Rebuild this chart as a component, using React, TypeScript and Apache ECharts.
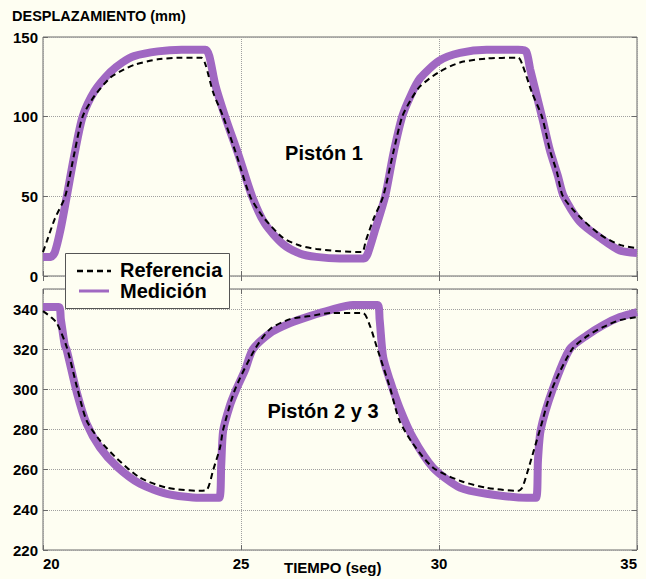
import React, { useEffect, useRef } from "react";
import * as echarts from "echarts";

// Pistón 1 (top panel) — reference and measurement, [tiempo (s), desplazamiento (mm)]
const ref1: [number, number][] = [
  [20.0, 15], [20.1, 22], [20.3, 36], [20.56, 50], [20.8, 78], [21.0, 100], [21.3, 113],
  [21.7, 124.5], [22.0, 129], [22.3, 132.5], [22.9, 136], [23.5, 137], [24.0, 137],
  [24.1, 133], [24.3, 115], [24.55, 100], [24.9, 75], [25.23, 50], [25.56, 37], [26.06, 24],
  [26.5, 19], [26.9, 17], [27.5, 15.5], [28.05, 15], [28.15, 22], [28.35, 36], [28.59, 50],
  [28.85, 78], [29.07, 100], [29.3, 111], [29.52, 119], [30.0, 128], [30.53, 134],
  [31.2, 136.5], [32.0, 137], [32.1, 133], [32.35, 115], [32.6, 100], [32.8, 79],
  [32.98, 65], [33.13, 50], [33.56, 37], [34.07, 26], [34.57, 19.5], [35.0, 17.5],
];
const med1: [number, number][] = [
  [20.0, 12], [20.2, 12], [20.3, 15], [20.45, 30], [20.6, 50], [20.8, 77], [21.0, 100],
  [21.3, 116], [21.7, 128], [22.0, 134], [22.3, 138], [22.9, 141], [23.5, 142], [24.1, 142],
  [24.2, 138], [24.35, 120], [24.6, 100], [24.95, 75], [25.28, 50], [25.6, 33], [26.06, 20],
  [26.5, 14], [26.9, 12], [27.5, 11], [28.1, 11], [28.2, 14], [28.4, 30], [28.64, 50],
  [28.85, 77], [29.07, 100], [29.3, 114], [29.52, 124], [30.0, 135], [30.53, 140],
  [31.2, 142], [32.0, 142], [32.2, 141], [32.3, 130], [32.6, 100], [32.8, 79], [33.0, 63],
  [33.15, 50], [33.56, 34], [34.07, 24], [34.57, 16], [35.0, 14.5],
];

// Pistón 2 y 3 (bottom panel)
const ref2: [number, number][] = [
  [20.0, 339], [20.2, 336], [20.35, 333], [20.6, 321], [20.86, 301], [21.1, 284.5],
  [21.44, 274.5], [21.87, 265.5], [22.45, 256], [23.13, 251], [23.96, 249.5], [24.14, 250],
  [24.3, 260], [24.47, 271], [24.55, 280], [24.85, 300], [25.35, 320], [25.73, 330],
  [26.24, 335], [26.74, 336.5], [27.25, 338], [28.08, 338], [28.25, 332], [28.43, 321],
  [28.76, 301], [29.0, 284.5], [29.34, 273], [29.85, 261], [30.53, 254.5], [31.2, 251],
  [32.0, 249.5], [32.1, 251], [32.22, 258], [32.4, 270], [32.55, 280], [32.85, 300],
  [33.36, 320], [33.74, 326.5], [34.14, 331], [34.57, 334.5], [35.0, 336],
];
const med2: [number, number][] = [
  [20.0, 341], [20.4, 341], [20.45, 335], [20.55, 322], [20.6, 319.5], [20.86, 298],
  [21.1, 283], [21.44, 271], [21.87, 261.5], [22.45, 253], [23.13, 248], [23.96, 246],
  [24.45, 246], [24.5, 262], [24.55, 279.5], [24.72, 292], [24.88, 300], [25.1, 309.5],
  [25.3, 320], [25.73, 328], [26.24, 333], [26.74, 336.5], [27.25, 339.5], [27.83, 342],
  [28.45, 342], [28.5, 335], [28.59, 316], [28.76, 304.5], [29.0, 291], [29.34, 276],
  [29.85, 261], [30.53, 251], [31.2, 248], [32.22, 246], [32.45, 246], [32.5, 265],
  [32.57, 280], [32.87, 300], [33.3, 320], [33.74, 327], [34.14, 332], [34.57, 336],
  [35.0, 338.5],
];

const xTicks = { min: 20, max: 35, interval: 5 };
const yTop = { min: 0, max: 150, interval: 50 };
const yBottom = { min: 220, max: 350, interval: 20 };

const BG = "#fefef2";
const PURPLE = "#a068c2";
const FRAME = "#6a6a6a";
const FONT = "Liberation Sans";

export default function App() {
  const ref = useRef<HTMLDivElement>(null);
  useEffect(() => {
    if (!ref.current) return;
    const chart = echarts.init(ref.current, null, { renderer: "svg" });
    const label = { color: "#000", fontWeight: "bold" as const, fontSize: 15, fontFamily: FONT };
    const split = { show: true, lineStyle: { color: "#a0a0a0", type: "dotted" as const, width: 1 } };
    const tick = { show: true, inside: true, length: 5, lineStyle: { color: FRAME } };
    const xMain = (gridIndex: number, showLabel: boolean) => ({
      type: "value" as const, gridIndex, ...xTicks,
      axisLine: { show: false }, axisTick: tick, splitLine: split,
      axisLabel: { show: showLabel, ...label, margin: 6, alignMinLabel: "left", alignMaxLabel: "right" },
    });
    const xTop = (gridIndex: number) => ({
      type: "value" as const, gridIndex, position: "top" as const, ...xTicks,
      axisLine: { show: false }, axisTick: tick, splitLine: { show: false }, axisLabel: { show: false },
    });
    const yMain = (gridIndex: number, r: any, hideMax: boolean) => ({
      type: "value" as const, gridIndex, ...r,
      axisLine: { show: false }, axisTick: tick, splitLine: split,
      axisLabel: { ...label, margin: 5, showMaxLabel: !hideMax },
    });
    const yRight = (gridIndex: number, r: any) => ({
      type: "value" as const, gridIndex, position: "right" as const, ...r,
      axisLine: { show: false }, axisTick: tick, splitLine: { show: false }, axisLabel: { show: false },
    });
    const lineBase = { type: "line" as const, showSymbol: false, smooth: 0.25, silent: true };
    chart.setOption({
      animation: false,
      backgroundColor: BG,
      grid: [
        { left: 43, top: 37, width: 594, height: 239, show: true, borderColor: FRAME, borderWidth: 1, backgroundColor: BG },
        { left: 43, top: 289, width: 594, height: 261, show: true, borderColor: FRAME, borderWidth: 1, backgroundColor: BG },
      ],
      xAxis: [xMain(0, false), xMain(1, true), xTop(0), xTop(1)],
      yAxis: [yMain(0, yTop, false), yMain(1, yBottom, true), yRight(0, yTop), yRight(1, yBottom)],
      series: [
        { ...lineBase, name: "Medición", xAxisIndex: 0, yAxisIndex: 0, data: med1, lineStyle: { color: PURPLE, width: 8 } },
        { ...lineBase, name: "Referencia", xAxisIndex: 0, yAxisIndex: 0, data: ref1, lineStyle: { color: "#000", width: 2, type: [6, 4] } },
        { ...lineBase, name: "Medición", xAxisIndex: 1, yAxisIndex: 1, data: med2, lineStyle: { color: PURPLE, width: 8 } },
        { ...lineBase, name: "Referencia", xAxisIndex: 1, yAxisIndex: 1, data: ref2, lineStyle: { color: "#000", width: 2, type: [6, 4] } },
      ],
      graphic: [
        { type: "text", x: 12, y: 16, z: 100, style: { text: "DESPLAZAMIENTO (mm)", fill: "#000", font: `bold 14.5px "${FONT}"`, verticalAlign: "middle" } },
        { type: "text", x: 284, y: 567, z: 100, style: { text: "TIEMPO (seg)", fill: "#000", font: `bold 15px "${FONT}"`, verticalAlign: "middle" } },
        { type: "text", x: 324, y: 153, z: 100, style: { text: "Pistón 1", fill: "#000", font: `bold 20px "${FONT}"`, align: "center", verticalAlign: "middle" } },
        { type: "text", x: 323, y: 411, z: 100, style: { text: "Pistón 2 y 3", fill: "#000", font: `bold 20px "${FONT}"`, align: "center", verticalAlign: "middle" } },
        { type: "rect", z: 100, shape: { x: 65.5, y: 253.5, width: 164, height: 55 }, style: { fill: BG, stroke: "#555", lineWidth: 1 } },
        { type: "line", z: 101, shape: { x1: 77, y1: 271, x2: 111, y2: 271 }, style: { stroke: "#000", lineWidth: 2.5, lineDash: [6, 4] } },
        { type: "line", z: 101, shape: { x1: 79, y1: 291, x2: 109, y2: 291 }, style: { stroke: PURPLE, lineWidth: 3 } },
        { type: "text", x: 120, y: 270, z: 101, style: { text: "Referencia", fill: "#000", font: `bold 20px "${FONT}"`, verticalAlign: "middle" } },
        { type: "text", x: 120, y: 291, z: 101, style: { text: "Medición", fill: "#000", font: `bold 20px "${FONT}"`, verticalAlign: "middle" } },
      ],
    });
    return () => chart.dispose();
  }, []);
  return <div ref={ref} style={{ position: "fixed", left: 0, top: 0, width: 646, height: 579 }} />;
}
